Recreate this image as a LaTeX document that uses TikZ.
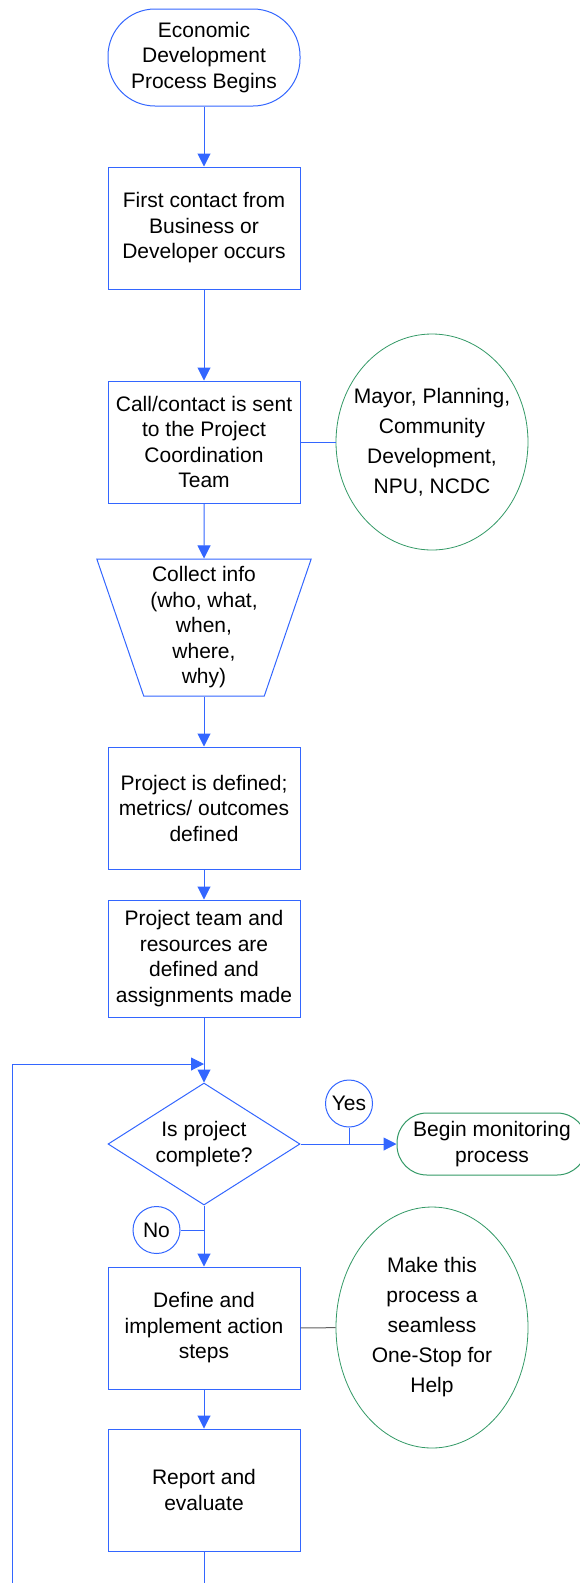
\documentclass[tikz,border=0pt]{standalone}
\usepackage{fontspec}
\setmainfont{Liberation Sans}
\usetikzlibrary{arrows.meta,shapes.geometric}

\definecolor{flowblue}{RGB}{51,102,255}
\definecolor{notegreen}{RGB}{51,153,102}
\definecolor{linkgray}{RGB}{96,96,96}

\begin{document}
\begin{tikzpicture}[
            x=1pt, y=-1pt,
            >={Triangle[width=13pt,length=13pt]},
            font=\fontsize{21}{25.5}\selectfont,
            every node/.style={align=center, line width=1pt},
            stepbox/.style={draw=flowblue, rectangle, minimum width=192pt, minimum height=122pt, inner sep=2pt},
            terminal/.style={draw=flowblue, rectangle, rounded corners=47pt, minimum width=192pt, minimum height=97pt, inner sep=2pt},
            note/.style={draw=notegreen, ellipse, line width=0.8pt, minimum width=192pt, inner xsep=-16pt, inner ysep=0pt, font=\fontsize{21}{30}\selectfont},
            tag/.style={draw=flowblue, circle, minimum size=47pt, inner sep=0pt},
            flow/.style={draw=flowblue, line width=1pt}
            ]

            \useasboundingbox (0,0) rectangle (579,1583);

            % main column
            \node [terminal] (start) at (204,57.5) {Economic\\Development\\Process Begins};
            \node [stepbox] (first) at (204,228) {First contact from\\Business or\\Developer occurs};
            \node [stepbox] (call) at (204,442) {Call/contact is sent\\to the Project\\Coordination\\Team};
            \node [draw=flowblue, trapezium, shape border rotate=180, trapezium angle=71,
                   trapezium stretches=true, minimum width=215pt, minimum height=137pt, inner sep=1pt]
                   (collect) at (204,627.5) {Collect info\\(who, what,\\when,\\where,\\why)};
            \node [stepbox] (defined) at (204,808) {Project is defined;\\metrics/ outcomes\\defined};
            \node [stepbox, minimum height=117pt] (team) at (204,958.5) {Project team and\\resources are\\defined and\\assignments made};
            \node [draw=flowblue, diamond, aspect=1.574, minimum width=192pt, minimum height=122pt, inner sep=0pt]
                   (decide) at (204,1144) {Is project\\complete?};
            \node [stepbox] (act) at (204,1328) {Define and\\implement action\\steps};
            \node [stepbox] (report) at (204,1490) {Report and\\evaluate};

            % side notes
            \node [note, minimum height=216pt] (mayor) at (432,442) {Mayor, Planning,\\Community\\Development,\\NPU, NCDC};
            \node [note, minimum height=241pt] (help) at (432,1327.5) {Make this\\process a\\seamless\\One-Stop for\\Help};
            \node [draw=notegreen, rectangle, rounded corners=30pt, minimum width=190pt, minimum height=62pt, inner sep=0pt]
                   (monitor) at (492,1144) {Begin monitoring\\process};
            \node [tag] (yes) at (349,1103.5) {Yes};
            \node [tag] (no) at (156.5,1230) {No};

            \coordinate (backin) at (204,1064);
            \coordinate (downA) at (204,1583);
            \coordinate (downB) at (12,1583);

            \draw[flow,->] (start) -- (first);
            \draw[flow,->] (first) -- (call);
            \draw[flow,->] (call) -- (collect);
            \draw[flow,->] (collect) -- (defined);
            \draw[flow,->] (defined) -- (team);
            \draw[flow,->] (team) -- (decide);
            \draw[flow,->] (decide) -- (monitor);
            \draw[flow,->] (decide) -- (act);
            \draw[flow,->] (act) -- (report);
            \draw[flow] (report) -- (downA);
            \draw[flow,->] (downB) |- (backin);

            \draw[flow] (call) -- (mayor);
            \draw[draw=linkgray, line width=1pt] (act) -- (help);
            \draw[flow] (yes) -- (yes |- decide);
            \draw[flow] (no) -- (no -| decide);
        \end{tikzpicture}
\end{document}
